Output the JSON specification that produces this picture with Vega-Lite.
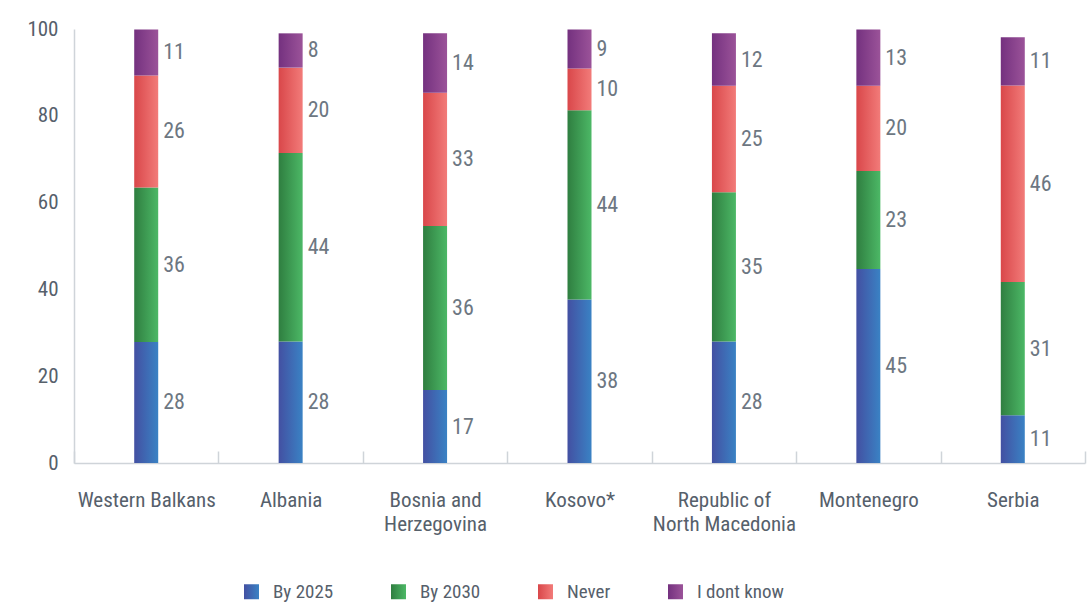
{
  "$schema": "https://vega.github.io/schema/vega-lite/v6.json",
  "width": 1011,
  "height": 434,
  "autosize": {"type": "none"},
  "padding": {"left": 74, "top": 29, "right": 2, "bottom": 140},
  "background": "white",
  "config": {
    "font": "Roboto Condensed, Liberation Sans Narrow, Roboto",
    "view": {"stroke": null}
  },
  "data": {
    "values": [
      {"country": "Western Balkans", "series": "By 2025", "value": 27.9, "label": "28"},
      {"country": "Western Balkans", "series": "By 2030", "value": 35.6, "label": "36"},
      {"country": "Western Balkans", "series": "Never", "value": 25.8, "label": "26"},
      {"country": "Western Balkans", "series": "I dont know", "value": 10.6, "label": "11"},
      {"country": "Albania", "series": "By 2025", "value": 28.0, "label": "28"},
      {"country": "Albania", "series": "By 2030", "value": 43.4, "label": "44"},
      {"country": "Albania", "series": "Never", "value": 19.7, "label": "20"},
      {"country": "Albania", "series": "I dont know", "value": 7.9, "label": "8"},
      {"country": "Bosnia and Herzegovina", "series": "By 2025", "value": 16.8, "label": "17"},
      {"country": "Bosnia and Herzegovina", "series": "By 2030", "value": 37.8, "label": "36"},
      {"country": "Bosnia and Herzegovina", "series": "Never", "value": 30.7, "label": "33"},
      {"country": "Bosnia and Herzegovina", "series": "I dont know", "value": 13.7, "label": "14"},
      {"country": "Kosovo*", "series": "By 2025", "value": 37.7, "label": "38"},
      {"country": "Kosovo*", "series": "By 2030", "value": 43.6, "label": "44"},
      {"country": "Kosovo*", "series": "Never", "value": 9.6, "label": "10"},
      {"country": "Kosovo*", "series": "I dont know", "value": 9.0, "label": "9"},
      {"country": "Republic of North Macedonia", "series": "By 2025", "value": 28.0, "label": "28"},
      {"country": "Republic of North Macedonia", "series": "By 2030", "value": 34.4, "label": "35"},
      {"country": "Republic of North Macedonia", "series": "Never", "value": 24.5, "label": "25"},
      {"country": "Republic of North Macedonia", "series": "I dont know", "value": 12.1, "label": "12"},
      {"country": "Montenegro", "series": "By 2025", "value": 44.7, "label": "45"},
      {"country": "Montenegro", "series": "By 2030", "value": 22.6, "label": "23"},
      {"country": "Montenegro", "series": "Never", "value": 19.6, "label": "20"},
      {"country": "Montenegro", "series": "I dont know", "value": 13.0, "label": "13"},
      {"country": "Serbia", "series": "By 2025", "value": 11.0, "label": "11"},
      {"country": "Serbia", "series": "By 2030", "value": 30.7, "label": "31"},
      {"country": "Serbia", "series": "Never", "value": 45.3, "label": "46"},
      {"country": "Serbia", "series": "I dont know", "value": 11.1, "label": "11"}
    ]
  },
  "transform": [
    {"calculate": "indexof(['By 2025','By 2030','Never','I dont know'], datum.series)", "as": "ord"},
    {"stack": "value", "groupby": ["country"], "sort": [{"field": "ord", "order": "ascending"}], "as": ["y0", "y1"]},
    {"calculate": "(datum.y0 + datum.y1) / 2", "as": "mid"}
  ],
  "encoding": {
    "x": {
      "field": "country",
      "type": "nominal",
      "sort": null,
      "scale": {"paddingInner": 0, "paddingOuter": 0},
      "axis": {
        "title": null,
        "labelAngle": 0,
        "labelFontSize": 21,
        "labelColor": "#56606b",
        "labelPadding": 49,
        "labelLineHeight": 24,
        "labelBaseline": "middle",
        "labelExpr": "datum.label == 'Bosnia and Herzegovina' ? ['Bosnia and', 'Herzegovina'] : datum.label == 'Republic of North Macedonia' ? ['Republic of', 'North Macedonia'] : datum.label",
        "domainColor": "#cfd4d9",
        "domainWidth": 1.5,
        "tickColor": "#cfd4d9",
        "tickWidth": 1.5,
        "tickSize": -12,
        "tickBand": "extent",
        "grid": false
      }
    }
  },
  "layer": [
    {
      "mark": {"type": "bar", "width": 24},
      "encoding": {
        "y": {
          "field": "y1",
          "type": "quantitative",
          "scale": {"domain": [0, 100], "nice": false},
          "axis": {
            "title": null,
            "values": [0, 20, 40, 60, 80, 100],
            "grid": false,
            "ticks": false,
            "labelFontSize": 21,
            "labelColor": "#56606b",
            "labelPadding": 16,
            "domainColor": "#cfd4d9",
            "domainWidth": 1.5
          }
        },
        "y2": {"field": "y0"},
        "color": {
          "field": "series",
          "type": "nominal",
          "scale": {
            "domain": ["By 2025", "By 2030", "Never", "I dont know"],
            "range": [
              {"expr": "{gradient: 'linear', x1: 0, y1: 0, x2: 1, y2: 0, stops: [{offset: 0, color: '#4350a2'}, {offset: 1, color: '#3a82c4'}]}"},
              {"expr": "{gradient: 'linear', x1: 0, y1: 0, x2: 1, y2: 0, stops: [{offset: 0, color: '#2f7e40'}, {offset: 1, color: '#4cb866'}]}"},
              {"expr": "{gradient: 'linear', x1: 0, y1: 0, x2: 1, y2: 0, stops: [{offset: 0, color: '#d9474a'}, {offset: 1, color: '#f27b79'}]}"},
              {"expr": "{gradient: 'linear', x1: 0, y1: 0, x2: 1, y2: 0, stops: [{offset: 0, color: '#74317f'}, {offset: 1, color: '#9b5399'}]}"}
            ]
          },
          "legend": {
            "title": null,
            "orient": "none",
            "direction": "horizontal",
            "legendX": 168,
            "legendY": 553,
            "symbolType": "square",
            "symbolSize": 225,
            "symbolStrokeWidth": 0,
            "labelFontSize": 19,
            "labelColor": "#56606b",
            "labelOffset": 12,
            "columnPadding": 55
          }
        }
      }
    },
    {
      "mark": {"type": "text", "align": "left", "baseline": "middle", "dx": 17, "fontSize": 22, "color": "#6d7782"},
      "encoding": {
        "y": {"field": "mid", "type": "quantitative"},
        "text": {"field": "label"}
      }
    }
  ]
}
